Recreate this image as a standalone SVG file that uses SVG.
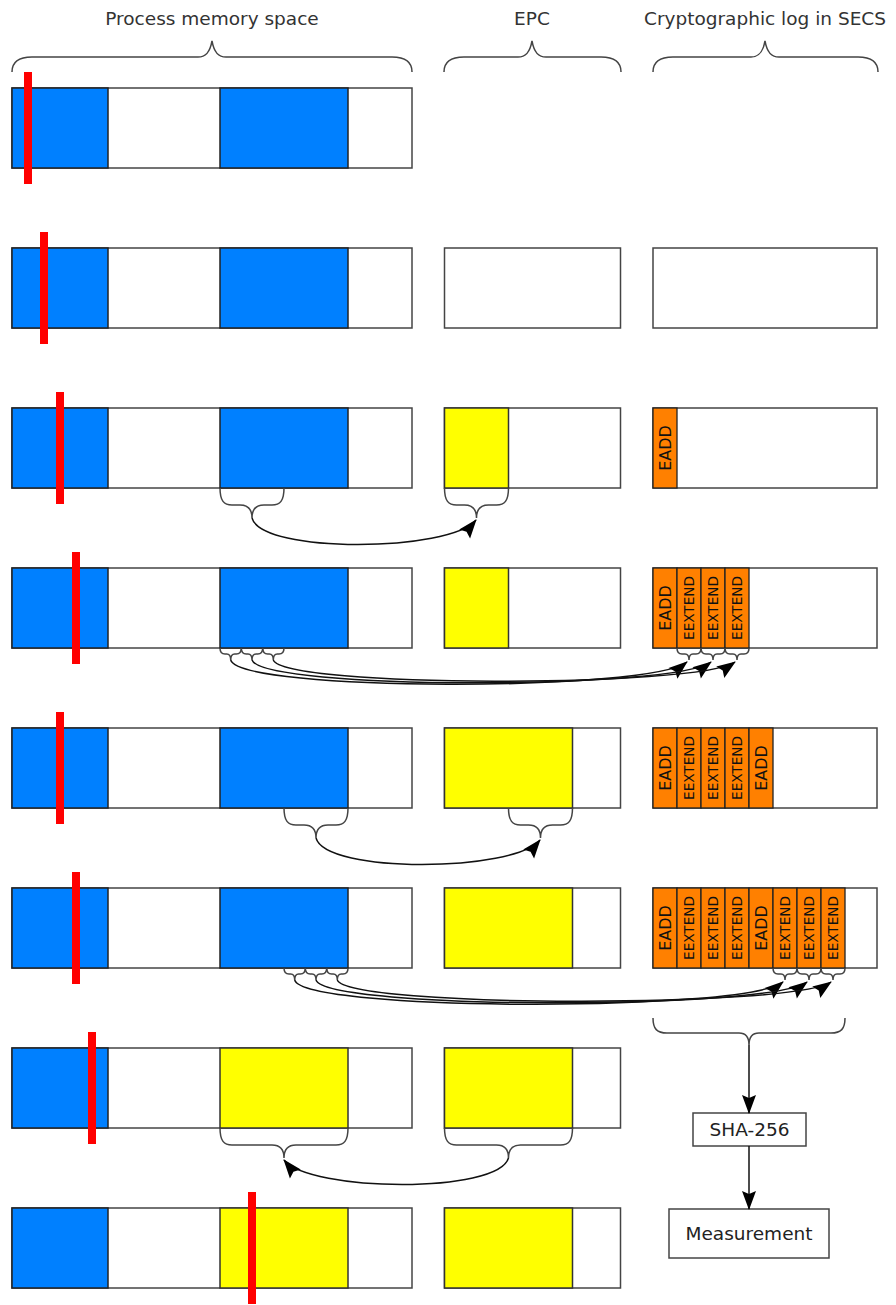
<svg xmlns="http://www.w3.org/2000/svg" width="896" height="1305" viewBox="0 0 896 1305">
  <style>
    .title { font-family: "DejaVu Sans", Verdana, sans-serif; font-size: 18.5px; fill: #333; text-anchor: middle; }
    .box { font-family: "DejaVu Sans", Verdana, sans-serif; font-size: 18.5px; fill: #222; text-anchor: middle; }
    .frame { fill: #fff; stroke: #444; stroke-width: 1.5; }
    .blue { fill: #0080ff; stroke: #222; stroke-width: 1.5; }
    .yellow { fill: #ffff00; stroke: #333; stroke-width: 1.5; }
    .orange { fill: #ff8000; stroke: #222; stroke-width: 1.3; }
    .ptr { fill: #ff0000; }
    .op { font-family: "DejaVu Sans", Verdana, sans-serif; fill: #111; text-anchor: middle; }
    .eadd { font-size: 16px; }
    .eext { font-size: 13.6px; }
    .brace { fill: none; stroke: #444; stroke-width: 1.5; }
    .link { fill: none; stroke: #111; stroke-width: 1.5; }
  </style>
  <defs>
    <marker id="head" markerUnits="userSpaceOnUse" viewBox="0 0 20 14" markerWidth="20" markerHeight="14" refX="18" refY="7" orient="auto" overflow="visible">
      <path d="M0,0 L19,7 L0,14 L3,7 Z" fill="#000"/>
    </marker>
    <!-- log entries: width 24, height 80, label rotated -->
    <g id="e-add">
      <rect class="orange" x="0" y="0" width="24" height="80"/>
      <text class="op eadd" transform="translate(12,40) rotate(-90)" x="0" y="5.8">EADD</text>
    </g>
    <g id="e-ext">
      <rect class="orange" x="0" y="0" width="24" height="80"/>
      <text class="op eext" transform="translate(12,40) rotate(-90)" x="0" y="4.9">EEXTEND</text>
    </g>
  </defs>

  <!-- column headings -->
  <g id="headings">
    <text class="title" x="212" y="25">Process memory space</text>
    <text class="title" x="532" y="25">EPC</text>
    <text class="title" x="765" y="25">Cryptographic log in SECS</text>
    <path class="brace" d="M12,72 C12,62 18,57 32,57 L198,57 C206,57 210,52 212,41 C214,52 218,57 226,57 L392,57 C406,57 412,62 412,72"/>
    <path class="brace" d="M444,72 C444,62 450,57 464,57 L518,57 C526,57 530,52 532,41 C534,52 538,57 546,57 L601,57 C615,57 621,62 621,72"/>
    <path class="brace" d="M653,72 C653,62 659,57 673,57 L751,57 C759,57 763,52 765,41 C767,52 771,57 779,57 L858,57 C872,57 878,62 878,72"/>
  </g>

  <!-- step 1 -->
  <g id="step1">
    <rect class="frame" x="12" y="88" width="400" height="80"/>
    <rect class="blue" x="12" y="88" width="96" height="80"/>
    <rect class="blue" x="220" y="88" width="128" height="80"/>
    <rect class="ptr" x="24" y="72" width="8" height="112"/>
  </g>

  <!-- step 2 -->
  <g id="step2">
    <rect class="frame" x="12" y="248" width="400" height="80"/>
    <rect class="blue" x="12" y="248" width="96" height="80"/>
    <rect class="blue" x="220" y="248" width="128" height="80"/>
    <rect class="ptr" x="40" y="232" width="8" height="112"/>
    <rect class="frame" x="444.5" y="248" width="176" height="80"/>
    <rect class="frame" x="653" y="248" width="224" height="80"/>
  </g>

  <!-- step 3 -->
  <g id="step3">
    <rect class="frame" x="12" y="408" width="400" height="80"/>
    <rect class="blue" x="12" y="408" width="96" height="80"/>
    <rect class="blue" x="220" y="408" width="128" height="80"/>
    <rect class="ptr" x="56" y="392" width="8" height="112"/>
    <rect class="frame" x="444.5" y="408" width="176" height="80"/>
    <rect class="yellow" x="444.5" y="408" width="64" height="80"/>
    <rect class="frame" x="653" y="408" width="224" height="80"/>
    <use href="#e-add" x="653" y="408"/>
  </g>

  <!-- step 4 -->
  <g id="step4">
    <rect class="frame" x="12" y="568" width="400" height="80"/>
    <rect class="blue" x="12" y="568" width="96" height="80"/>
    <rect class="blue" x="220" y="568" width="128" height="80"/>
    <rect class="ptr" x="72" y="552" width="8" height="112"/>
    <rect class="frame" x="444.5" y="568" width="176" height="80"/>
    <rect class="yellow" x="444.5" y="568" width="64" height="80"/>
    <rect class="frame" x="653" y="568" width="224" height="80"/>
    <use href="#e-add" x="653" y="568"/>
    <use href="#e-ext" x="677" y="568"/>
    <use href="#e-ext" x="701" y="568"/>
    <use href="#e-ext" x="725" y="568"/>
  </g>

  <!-- step 5 -->
  <g id="step5">
    <rect class="frame" x="12" y="728" width="400" height="80"/>
    <rect class="blue" x="12" y="728" width="96" height="80"/>
    <rect class="blue" x="220" y="728" width="128" height="80"/>
    <rect class="ptr" x="56" y="712" width="8" height="112"/>
    <rect class="frame" x="444.5" y="728" width="176" height="80"/>
    <rect class="yellow" x="444.5" y="728" width="128" height="80"/>
    <rect class="frame" x="653" y="728" width="224" height="80"/>
    <use href="#e-add" x="653" y="728"/>
    <use href="#e-ext" x="677" y="728"/>
    <use href="#e-ext" x="701" y="728"/>
    <use href="#e-ext" x="725" y="728"/>
    <use href="#e-add" x="749" y="728"/>
  </g>

  <!-- step 6 -->
  <g id="step6">
    <rect class="frame" x="12" y="888" width="400" height="80"/>
    <rect class="blue" x="12" y="888" width="96" height="80"/>
    <rect class="blue" x="220" y="888" width="128" height="80"/>
    <rect class="ptr" x="72" y="872" width="8" height="112"/>
    <rect class="frame" x="444.5" y="888" width="176" height="80"/>
    <rect class="yellow" x="444.5" y="888" width="128" height="80"/>
    <rect class="frame" x="653" y="888" width="224" height="80"/>
    <use href="#e-add" x="653" y="888"/>
    <use href="#e-ext" x="677" y="888"/>
    <use href="#e-ext" x="701" y="888"/>
    <use href="#e-ext" x="725" y="888"/>
    <use href="#e-add" x="749" y="888"/>
    <use href="#e-ext" x="773" y="888"/>
    <use href="#e-ext" x="797" y="888"/>
    <use href="#e-ext" x="821" y="888"/>
  </g>

  <!-- step 7 -->
  <g id="step7">
    <rect class="frame" x="12" y="1048" width="400" height="80"/>
    <rect class="blue" x="12" y="1048" width="96" height="80"/>
    <rect class="yellow" x="220" y="1048" width="128" height="80"/>
    <rect class="ptr" x="88" y="1032" width="8" height="112"/>
    <rect class="frame" x="444.5" y="1048" width="176" height="80"/>
    <rect class="yellow" x="444.5" y="1048" width="128" height="80"/>
  </g>

  <!-- step 8 -->
  <g id="step8">
    <rect class="frame" x="12" y="1208" width="400" height="80"/>
    <rect class="blue" x="12" y="1208" width="96" height="80"/>
    <rect class="yellow" x="220" y="1208" width="128" height="80"/>
    <rect class="ptr" x="248" y="1192" width="8" height="112"/>
    <rect class="frame" x="444.5" y="1208" width="176" height="80"/>
    <rect class="yellow" x="444.5" y="1208" width="128" height="80"/>
  </g>

  <!-- hash and measurement -->
  <g id="sha256">
    <rect class="frame" x="693" y="1113" width="113" height="33"/>
    <text class="box" x="749.5" y="1136">SHA-256</text>
  </g>
  <g id="measurement">
    <rect class="frame" x="669" y="1209" width="160" height="49"/>
    <text class="box" x="749" y="1240">Measurement</text>
  </g>

  <g id="connectors">
    <!-- step 3: EADD page copy -->
    <path class="brace" d="M220,488 C220,501 224,505 232,505 L240,505 C248,505 252,509 252,518 C252,509 256,505 264,505 L272,505 C280,505 284,501 284,488"/>
    <path class="brace" d="M444.5,488 C444.5,501 448.5,505 456.5,505 L464.5,505 C472.5,505 476.5,509 476.5,518 C476.5,509 480.5,505 488.5,505 L496.5,505 C504.5,505 508.5,501 508.5,488"/>
    <path class="link" marker-end="url(#head)" d="M252,518 C262,554 450,552 476,520"/>

    <!-- step 4: three EEXTEND chunks -->
    <path class="brace" d="M220,648 C220,652 221,654 225,654 L226.7,654 C229.7,654 230.7,656 230.7,660 C230.7,656 231.7,654 234.7,654 L236.3,654 C240.3,654 241.3,652 241.3,648"/>
    <path class="brace" d="M241.3,648 C241.3,652 242.3,654 246.3,654 L248,654 C251,654 252,656 252,660 C252,656 253,654 256,654 L257.7,654 C261.7,654 262.7,652 262.7,648"/>
    <path class="brace" d="M262.7,648 C262.7,652 263.7,654 267.7,654 L269.3,654 C272.3,654 273.3,656 273.3,660 C273.3,656 274.3,654 277.3,654 L279,654 C283,654 284,652 284,648"/>
    <path class="brace" d="M677,648 C677,652 678,654 682,654 L685,654 C688,654 689,656 689,660 C689,656 690,654 693,654 L696,654 C700,654 701,652 701,648"/>
    <path class="brace" d="M701,648 C701,652 702,654 706,654 L709,654 C712,654 713,656 713,660 C713,656 714,654 717,654 L720,654 C724,654 725,652 725,648"/>
    <path class="brace" d="M725,648 C725,652 726,654 730,654 L733,654 C736,654 737,656 737,660 C737,656 738,654 741,654 L744,654 C748,654 749,652 749,648"/>
    <path class="link" marker-end="url(#head)" d="M230.7,660 C240,692 650,692 687,662"/>
    <path class="link" marker-end="url(#head)" d="M252,660 C262,690 674,690 711,662"/>
    <path class="link" marker-end="url(#head)" d="M273.3,660 C284,688 698,688 735,662"/>

    <!-- step 5: second EADD -->
    <path class="brace" d="M284,808 C284,821 288,825 296,825 L304,825 C312,825 316,829 316,838 C316,829 320,825 328,825 L336,825 C344,825 348,821 348,808"/>
    <path class="brace" d="M508.5,808 C508.5,821 512.5,825 520.5,825 L528.5,825 C536.5,825 540.5,829 540.5,838 C540.5,829 544.5,825 552.5,825 L560.5,825 C568.5,825 572.5,821 572.5,808"/>
    <path class="link" marker-end="url(#head)" d="M316,838 C326,874 514,872 540,840"/>

    <!-- step 6: three more EEXTEND chunks -->
    <path class="brace" d="M284,968 C284,972 285,974 289,974 L290.7,974 C293.7,974 294.7,976 294.7,980 C294.7,976 295.7,974 298.7,974 L300.3,974 C304.3,974 305.3,972 305.3,968"/>
    <path class="brace" d="M305.3,968 C305.3,972 306.3,974 310.3,974 L312,974 C315,974 316,976 316,980 C316,976 317,974 320,974 L321.7,974 C325.7,974 326.7,972 326.7,968"/>
    <path class="brace" d="M326.7,968 C326.7,972 327.7,974 331.7,974 L333.3,974 C336.3,974 337.3,976 337.3,980 C337.3,976 338.3,974 341.3,974 L343,974 C347,974 348,972 348,968"/>
    <path class="brace" d="M773,968 C773,972 774,974 778,974 L781,974 C784,974 785,976 785,980 C785,976 786,974 789,974 L792,974 C796,974 797,972 797,968"/>
    <path class="brace" d="M797,968 C797,972 798,974 802,974 L805,974 C808,974 809,976 809,980 C809,976 810,974 813,974 L816,974 C820,974 821,972 821,968"/>
    <path class="brace" d="M821,968 C821,972 822,974 826,974 L829,974 C832,974 833,976 833,980 C833,976 834,974 837,974 L840,974 C844,974 845,972 845,968"/>
    <path class="link" marker-end="url(#head)" d="M294.7,980 C304,1012 746,1012 783,982"/>
    <path class="link" marker-end="url(#head)" d="M316,980 C326,1010 770,1010 807,982"/>
    <path class="link" marker-end="url(#head)" d="M337.3,980 C348,1008 794,1008 831,982"/>

    <!-- step 7: page written back -->
    <path class="brace" d="M220,1128 C220,1141 224,1145 232,1145 L272,1145 C280,1145 284,1149 284,1158 C284,1149 288,1145 296,1145 L336,1145 C344,1145 348,1141 348,1128"/>
    <path class="brace" d="M444.5,1128 C444.5,1141 448.5,1145 456.5,1145 L496.5,1145 C504.5,1145 508.5,1149 508.5,1158 C508.5,1149 512.5,1145 520.5,1145 L560.5,1145 C568.5,1145 572.5,1141 572.5,1128"/>
    <path class="link" marker-end="url(#head)" d="M508.5,1158 C498,1194 310,1192 284,1160"/>

    <!-- log to hash to measurement -->
    <path class="brace" d="M653,1018 C653,1029 657,1033 667,1033 L739,1033 C746,1033 749,1037 749,1045 C749,1037 752,1033 759,1033 L831,1033 C841,1033 845,1029 845,1018"/>
    <path class="link" marker-end="url(#head)" d="M749,1045 L749,1113"/>
    <path class="link" marker-end="url(#head)" d="M749,1146 L749,1209"/>
  </g>
</svg>
